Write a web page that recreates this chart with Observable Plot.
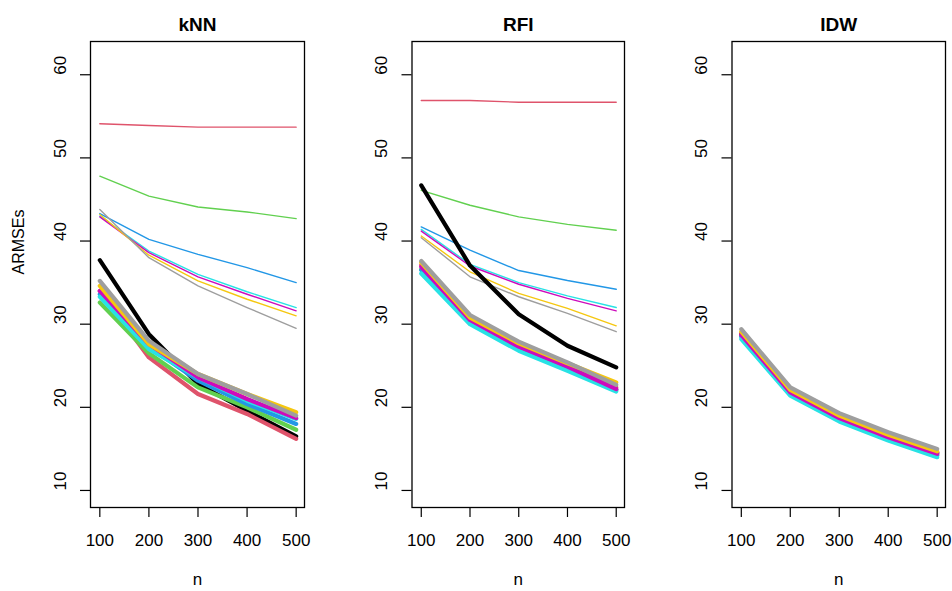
<!DOCTYPE html>
<html><head><meta charset="utf-8">
<script src="https://cdn.jsdelivr.net/npm/d3@7"></script>
<script src="https://cdn.jsdelivr.net/npm/@observablehq/plot@0.6"></script>
<style>
body{margin:0;background:#fff;}
#wrap{position:relative;width:952px;height:591px;overflow:hidden;background:#fff;}
#wrap svg{position:absolute;top:0;}
</style></head><body><div id="wrap"></div>
<script>
// ---- data ----
const nValues = [100, 200, 300, 400, 500];
const xTicks = [100, 200, 300, 400, 500];
const yTicks = [10, 20, 30, 40, 50, 60];
const panelNames = ["kNN", "RFI", "IDW"];
const seriesColors = ["#000000", "#DF536B", "#61D04F", "#2297E6", "#28E2E5", "#CD0BBC", "#F5C710", "#9E9E9E"];
const yLabel = "ARMSEs";
const xLabel = "n";

// thin lines (index = colour: black, red, green, blue, cyan, magenta, yellow, gray); null = not visible
const kNNThin = [
  null,
  [54.1, 53.9, 53.7, 53.7, 53.7],
  [47.8, 45.4, 44.1, 43.5, 42.7],
  [43.3, 40.2, 38.4, 36.8, 35.0],
  [43.0, 38.8, 36.0, 33.9, 32.0],
  [42.9, 38.6, 35.7, 33.6, 31.6],
  [43.2, 38.3, 35.2, 33.0, 31.0],
  [43.8, 38.0, 34.6, 32.0, 29.5]
];
const kNNThick = [
  [37.7, 28.8, 22.8, 19.6, 16.5],
  [34.0, 26.0, 21.6, 19.2, 16.2],
  [32.6, 26.5, 22.4, 20.0, 17.3],
  [33.6, 27.3, 23.2, 20.4, 18.0],
  [33.3, 27.0, 23.6, 20.8, 18.6],
  [34.0, 27.6, 23.6, 21.0, 18.7],
  [34.6, 27.6, 24.0, 21.6, 19.4],
  [35.2, 28.0, 24.0, 21.6, 19.0]
];
const RFIThin = [
  null,
  [56.9, 56.9, 56.7, 56.7, 56.7],
  [46.1, 44.3, 42.9, 42.0, 41.3],
  [41.7, 38.9, 36.45, 35.25, 34.2],
  [41.4, 37.2, 35.0, 33.4, 32.0],
  [41.2, 37.0, 34.8, 33.1, 31.6],
  [40.6, 36.3, 33.7, 31.9, 29.8],
  [40.4, 35.7, 33.3, 31.3, 29.1]
];
const RFIThick = [
  [46.7, 37.05, 31.2, 27.4, 24.8],
  [37.1, 30.6, 27.4, 25.0, 22.4],
  [36.6, 30.3, 27.1, 24.7, 22.1],
  [36.5, 30.2, 27.0, 24.6, 22.1],
  [36.1, 30.0, 26.8, 24.4, 21.9],
  [36.9, 30.5, 27.3, 24.9, 22.2],
  [37.4, 30.8, 27.7, 25.3, 23.0],
  [37.6, 31.1, 27.9, 25.4, 22.7]
];
const IDWThin = [null, null, null, null, null, null, null, null];
const IDWThick = [
  [28.8, 21.9, 18.8, 16.5, 14.5],
  [28.9, 22.0, 18.9, 16.6, 14.6],
  [28.6, 21.7, 18.6, 16.3, 14.3],
  [28.5, 21.6, 18.5, 16.2, 14.2],
  [28.2, 21.4, 18.3, 16.0, 14.0],
  [28.7, 21.8, 18.7, 16.4, 14.4],
  [29.1, 22.1, 19.0, 16.7, 14.7],
  [29.4, 22.4, 19.3, 17.0, 15.0]
];

// ---- build ----
function rowsOf(group, prefix) {
  const out = [];
  group.forEach((vals, ci) => {
    if (!vals) return;
    vals.forEach((v, j) => out.push({n: nValues[j], v, series: prefix + ci, color: seriesColors[ci]}));
  });
  return out;
}

const FONT = "'Liberation Sans', Arial, sans-serif";
const panels = [
  {name: panelNames[0], thin: kNNThin, thick: kNNThick, left: 0, mL: 90, w: 320, mR: 16, ylab: true},
  {name: panelNames[1], thin: RFIThin, thick: RFIThick, left: 320, mL: 91.5, w: 320, mR: 16, ylab: false},
  {name: panelNames[2], thin: IDWThin, thick: IDWThick, left: 640, mL: 91.5, w: 312, mR: 7, ylab: false}
];

const wrap = document.getElementById("wrap");
for (const p of panels) {
  const marks = [
    Plot.line(rowsOf(p.thin, "t"), {x: "n", y: "v", z: "series", stroke: "color", strokeWidth: 1.4}),
    Plot.line(rowsOf(p.thick, "k"), {x: "n", y: "v", z: "series", stroke: "color", strokeWidth: 4.2}),
    Plot.frame({stroke: "#000", strokeWidth: 1.3}),
    Plot.axisX({ticks: xTicks, tickSize: 10, tickPadding: 16, fontSize: 17, label: null, stroke: "#000", strokeWidth: 1.2}),
    Plot.axisY({ticks: yTicks, tickSize: 10, tickFormat: () => "", label: null, stroke: "#000", strokeWidth: 1.2}),
    Plot.text(yTicks, {y: d => d, text: d => String(d), frameAnchor: "left", dx: -30, rotate: -90, fontSize: 17, lineAnchor: "middle", fill: "#000"}),
    Plot.text([p.name], {text: d => d, frameAnchor: "top", dy: -17, lineAnchor: "middle", fontSize: 19, fontWeight: "bold", fill: "#000"}),
    Plot.text([xLabel], {text: d => d, frameAnchor: "bottom", dy: 72, lineAnchor: "middle", fontSize: 17, fill: "#000"})
  ];
  if (p.ylab) marks.push(Plot.text([yLabel], {text: d => d, frameAnchor: "left", dx: -72, rotate: -90, lineAnchor: "middle", fontSize: 16, fill: "#000"}));
  const svg = Plot.plot({
    width: p.w, height: 591,
    marginTop: 41, marginBottom: 84, marginLeft: p.mL, marginRight: p.mR,
    x: {domain: [81, 517], axis: null},
    y: {domain: [7.95, 64.0], axis: null},
    color: {type: "identity"},
    style: {fontFamily: FONT, fontSize: "17px", background: "transparent", color: "#000", overflow: "visible"},
    marks
  });
  svg.style.left = p.left + "px";
  wrap.appendChild(svg);
}
</script></body></html>
